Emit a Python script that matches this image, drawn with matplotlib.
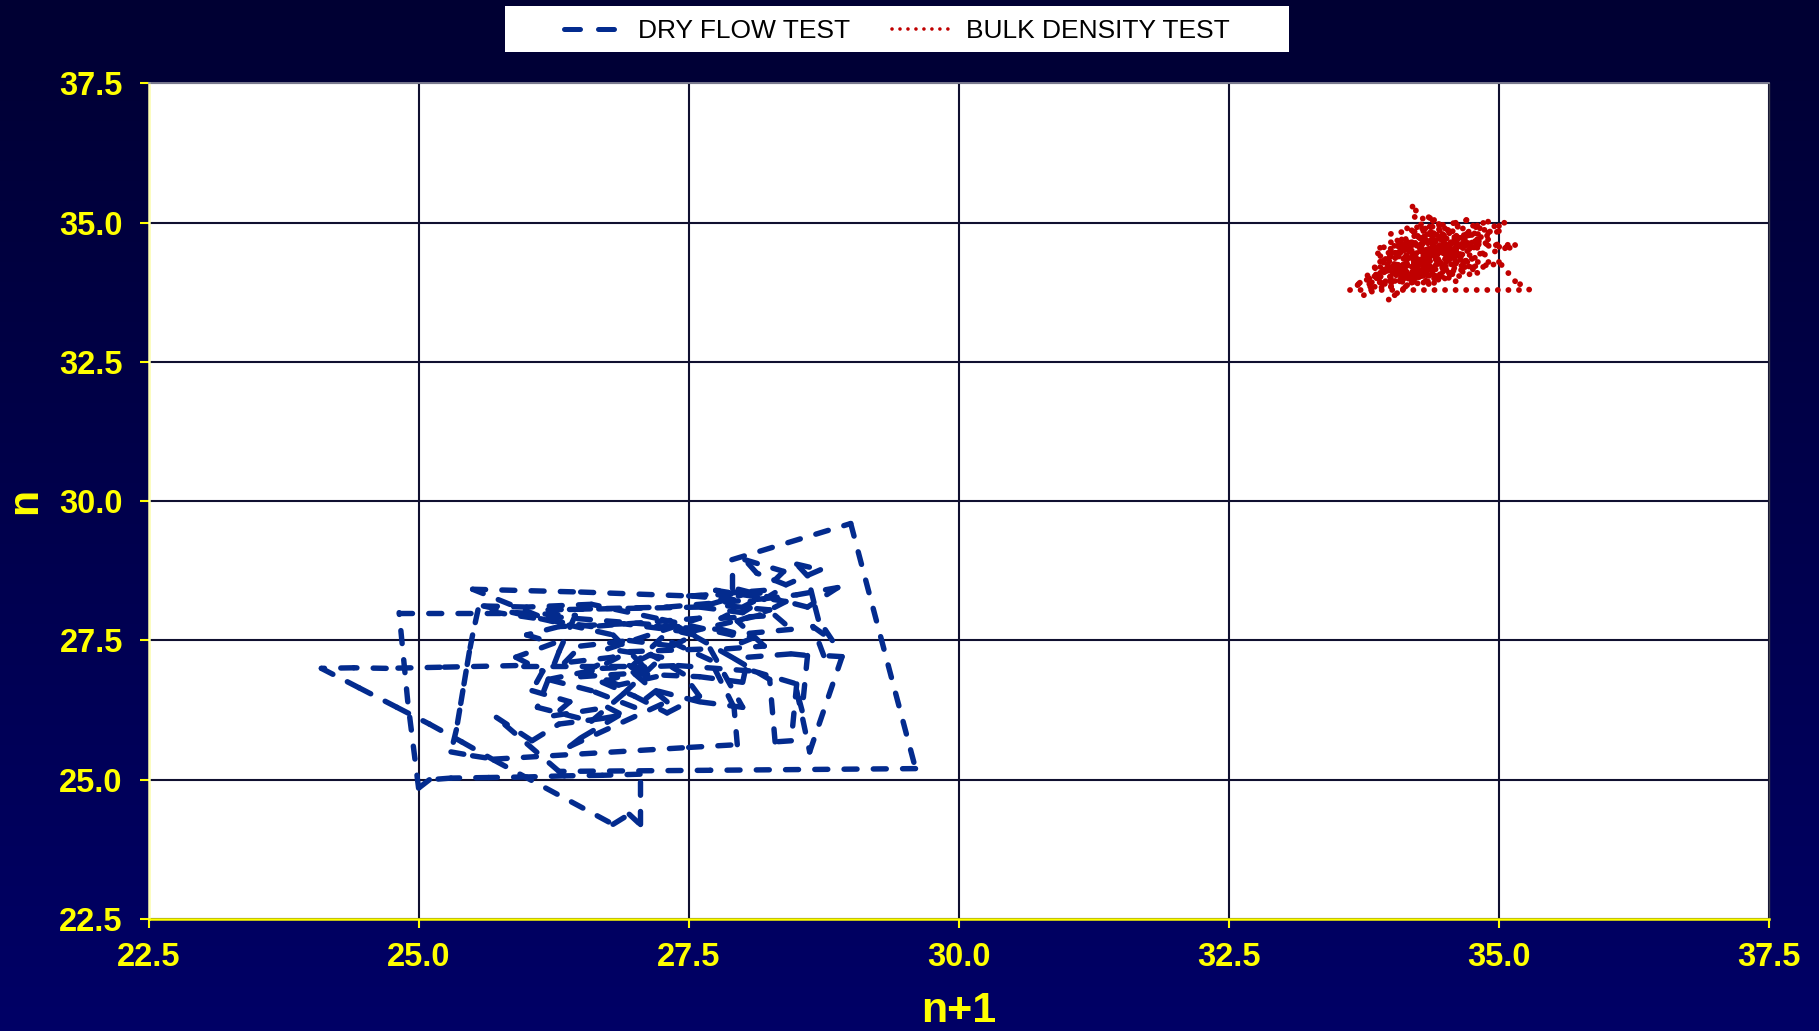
import numpy as np
import matplotlib
matplotlib.use("Agg")
import matplotlib.pyplot as plt
from matplotlib.collections import LineCollection
from matplotlib.lines import Line2D
from matplotlib.patches import Rectangle
from matplotlib.colors import LinearSegmentedColormap

plt.rcParams['font.family'] = ['Liberation Sans', 'DejaVu Sans']

# axis ticks
ticks = [22.5, 25.0, 27.5, 30.0, 32.5, 35.0, 37.5]
tick_labels = ['22.5', '25.0', '27.5', '30.0', '32.5', '35.0', '37.5']

# DRY FLOW TEST trajectory (n+1, n)
dry_flow = [
    (26.9, 27.05), (25.9, 27.05), (25.2, 27.02), (24.7, 27.0), (24.4, 27.01),
    (24.1, 27.0), (24.45, 26.65), (24.8, 26.3), (25.1, 26.0), (25.4, 25.68),
    (25.7, 25.35), (26.8, 24.2), (26.95, 24.38), (27.05, 24.2), (27.05, 25.1),
    (26.7, 25.08), (26.35, 25.07), (26.0, 25.05), (25.65, 25.04), (25.3, 25.03),
    (25.1, 25.0), (25.0, 24.85), (24.9, 26.4), (24.82, 28.0), (25.9, 28.0),
    (26.45, 27.95), (26.3, 27.3), (26.1, 26.3), (26.6, 26.05), (26.9, 26.55),
    (27.25, 27.2), (26.75, 27.35), (27.6, 27.9), (26.6, 27.75), (25.55, 28.05),
    (25.5, 27.6), (25.47, 27.3), (25.44, 26.95), (25.41, 26.6), (25.38, 26.25),
    (25.35, 25.9), (25.3, 25.5), (25.5, 25.43), (25.7, 25.37), (27.5, 25.58),
    (27.95, 25.63), (27.92, 26.3), (27.7, 27.15), (27.25, 27.55), (26.9, 26.9),
    (26.5, 26.85), (26.95, 27.3), (27.7, 27.35), (28.0, 26.3), (27.6, 26.4),
    (27.2, 26.6), (27.0, 26.3), (26.6, 26.6), (26.2, 26.8), (26.7, 27.0),
    (27.4, 27.05), (28.1, 26.95), (28.5, 26.72), (28.45, 25.7), (28.3, 25.68),
    (28.25, 26.8), (27.9, 27.2), (27.4, 27.75), (26.1, 27.95), (25.5, 28.42),
    (26.5, 28.37), (27.5, 28.3), (28.3, 28.36), (28.0, 28.0), (27.6, 28.1),
    (26.2, 28.05), (27.3, 28.1), (28.2, 28.25), (28.5, 28.32), (28.88, 28.45),
    (28.6, 28.1), (27.9, 28.45), (27.9, 28.95), (29.0, 29.6), (29.6, 25.2),
    (27.7, 25.17), (26.3, 25.15), (25.72, 26.12), (26.05, 25.7), (26.3, 26.0),
    (26.7, 26.1), (26.85, 26.15), (26.5, 25.75), (26.4, 25.6), (27.3, 26.4),
    (27.0, 26.9), (27.6, 26.85), (28.0, 26.75), (28.05, 27.2), (28.45, 27.26),
    (28.6, 27.23), (28.55, 26.24), (28.5, 26.6), (28.62, 25.5), (28.92, 27.21),
    (28.75, 27.23), (28.65, 27.75), (28.83, 27.5), (28.7, 27.88), (28.66, 28.18),
    (28.6, 28.66), (28.5, 28.87), (28.72, 28.77), (28.4, 28.5), (28.13, 28.71),
    (28.02, 28.95), (28.38, 28.74), (28.2, 28.4), (27.53, 28.3), (28.1, 28.2),
    (27.8, 27.9), (28.3, 27.95), (28.45, 27.7), (27.9, 27.6), (27.2, 27.9),
    (26.6, 28.15), (26.0, 28.1), (25.6, 28.12), (26.8, 27.6), (27.1, 27.0),
    (26.7, 26.75), (27.0, 26.5), (27.3, 26.2), (27.6, 26.5), (27.45, 26.9),
    (27.15, 27.25), (26.95, 27.05), (27.2, 26.85), (26.85, 26.7), (26.55, 26.95),
    (26.8, 27.2), (26.35, 27.1), (26.5, 27.4), (26.95, 27.5), (27.35, 27.4),
    (27.55, 27.6), (27.2, 27.75), (27.8, 27.7), (28.1, 27.55), (27.85, 27.35),
    (28.2, 27.4), (27.95, 27.85), (28.25, 28.05), (27.7, 28.15), (28.05, 28.35),
    (27.75, 28.4), (28.4, 28.2), (28.15, 27.95), (27.5, 27.65), (26.9, 27.8),
    (26.3, 27.75), (26.0, 27.6), (26.25, 27.45), (25.9, 27.2), (26.15, 26.95),
    (26.05, 26.6), (26.4, 26.4), (26.25, 26.15), (26.75, 26.3), (26.95, 26.1),
]

# BULK DENSITY TEST trajectory (n+1, n)
bulk_density = [
    (34.3, 34.2), (34.0, 34.5), (34.5, 34.9), (34.2, 33.95), (34.7, 34.6),
    (33.9, 34.1), (34.4, 35.05), (34.6, 34.3), (34.1, 34.7), (34.35, 33.9),
    (34.8, 34.95), (34.0, 33.85), (34.55, 34.5), (34.2, 35.29), (34.3, 34.4),
    (33.8, 34.0), (34.65, 34.15), (34.45, 34.75), (33.95, 34.35), (34.9, 34.7),
    (34.25, 34.05), (35.05, 35.0), (34.4, 34.55), (33.85, 33.85), (34.75, 34.35),
    (34.15, 34.9), (34.6, 33.95), (34.3, 34.65), (35.15, 34.6), (34.5, 34.2),
    (34.05, 34.25), (34.85, 34.45), (34.35, 35.1), (33.7, 33.9), (34.7, 34.8),
    (34.1, 34.1), (34.95, 34.25), (34.4, 34.0), (34.0, 34.8), (34.6, 35.0),
    (34.25, 34.3), (35.0, 34.85), (33.9, 34.55), (34.5, 34.45), (34.15, 33.88),
    (34.8, 34.1), (34.3, 34.85), (35.1, 34.55), (34.55, 34.65), (34.0, 34.0),
    (34.7, 35.05), (34.2, 34.45), (33.62, 33.8), (35.28, 33.8), (35.15, 33.95),
    (35.0, 34.3), (34.45, 34.3), (33.75, 33.7), (34.1, 34.6), (34.9, 35.02),
    (34.35, 34.15), (33.98, 33.62), (34.6, 34.55), (34.25, 34.75), (34.75, 34.2),
    (34.05, 34.4), (34.45, 34.95), (34.2, 34.2), (33.85, 34.2), (34.4, 33.92),
    (33.95, 33.95), (34.15, 34.35), (33.8, 33.9), (34.3, 34.05), (34.05, 34.15),
    (34.5, 34.0), (33.9, 34.3), (34.2, 34.6), (34.55, 34.1), (34.1, 33.98),
    (33.88, 34.45), (34.35, 34.5), (34.65, 34.4), (34.0, 34.65), (34.45, 34.6),
    (34.8, 34.55), (34.15, 34.15),
]

blue = '#032B8E'
red = '#C00000'
yellow = '#FFFF00'

W, H = 1819, 1031
fig = plt.figure(figsize=(W / 100, H / 100), dpi=100)

# navy gradient background
bg = fig.add_axes([0, 0, 1, 1], zorder=-10)
grad = np.linspace(0, 1, 256).reshape(-1, 1)
bg.imshow(grad, aspect='auto', extent=[0, 1, 0, 1],
          cmap=LinearSegmentedColormap.from_list('bg', ['#000033', '#000066']))
bg.axis('off')

ax = fig.add_axes([148.5 / W, 1 - 919 / H, (1769 - 148.5) / W, (919 - 83.5) / H])
ax.set_facecolor('white')
ax.set_xlim(22.5, 37.5)
ax.set_ylim(22.5, 37.5)
ax.set_xticks(ticks)
ax.set_xticklabels(tick_labels)
ax.set_yticks(ticks)
ax.set_yticklabels(tick_labels)
ax.grid(True, color='#101030', lw=1.5, zorder=0)
ax.set_axisbelow(True)

for lbl in ax.get_xticklabels() + ax.get_yticklabels():
    lbl.set_fontweight('bold')
ax.tick_params(axis='both', colors=yellow, labelsize=23.5, length=6.5, width=1.5,
               direction='out')
ax.tick_params(axis='x', pad=10)
ax.tick_params(axis='y', pad=12)

ax.spines['bottom'].set_color(yellow)
ax.spines['bottom'].set_linewidth(1.8)
ax.spines['left'].set_color('#FFFFB0')
ax.spines['left'].set_linewidth(1.8)
ax.spines['top'].set_color('#9090A0')
ax.spines['top'].set_linewidth(1.2)
ax.spines['right'].set_color('#404050')
ax.spines['right'].set_linewidth(1.0)

# each segment restarts its dash pattern, like the original chart
dry_segs = list(zip(dry_flow[:-1], dry_flow[1:]))
lc_dry = LineCollection(dry_segs, colors=blue, linewidths=3.9,
                        linestyles=[(0, (2.4, 3.0))], capstyle='round', zorder=3)
ax.add_collection(lc_dry)

bulk_segs = list(zip(bulk_density[:-1], bulk_density[1:]))
lc_bulk = LineCollection(bulk_segs, colors=red, linewidths=4.2,
                         linestyles=[(0, (0.01, 1.8))], capstyle='round', zorder=3)
ax.add_collection(lc_bulk)

ax.set_xlabel('n+1', color=yellow, fontsize=31, fontweight='bold')
ax.xaxis.set_label_coords(0.5, -0.086)
ax.set_ylabel('n', color=yellow, fontsize=31, fontweight='bold')
ax.yaxis.set_label_coords(-0.064, 0.5)

# legend box on top
fig.add_artist(Rectangle((505 / W, 1 - 52 / H), 784 / W, 46 / H,
                         transform=fig.transFigure, facecolor='white',
                         edgecolor='none', zorder=1))
handles = [
    Line2D([], [], color=blue, lw=3.6, linestyle=(0, (3.2, 3.6)), dash_capstyle='round'),
    Line2D([], [], color=red, lw=2.6, linestyle=(0, (0.01, 2.2)), dash_capstyle='round'),
]
fig.legend(handles, ['DRY FLOW TEST', 'BULK DENSITY TEST'], loc='center',
           bbox_to_anchor=(897 / W, 1 - 31 / H), ncol=2, frameon=False,
           fontsize=19, handlelength=2.2, handletextpad=0.6, columnspacing=1.6,
           labelcolor='black')

fig.savefig('out.png', dpi=100)
